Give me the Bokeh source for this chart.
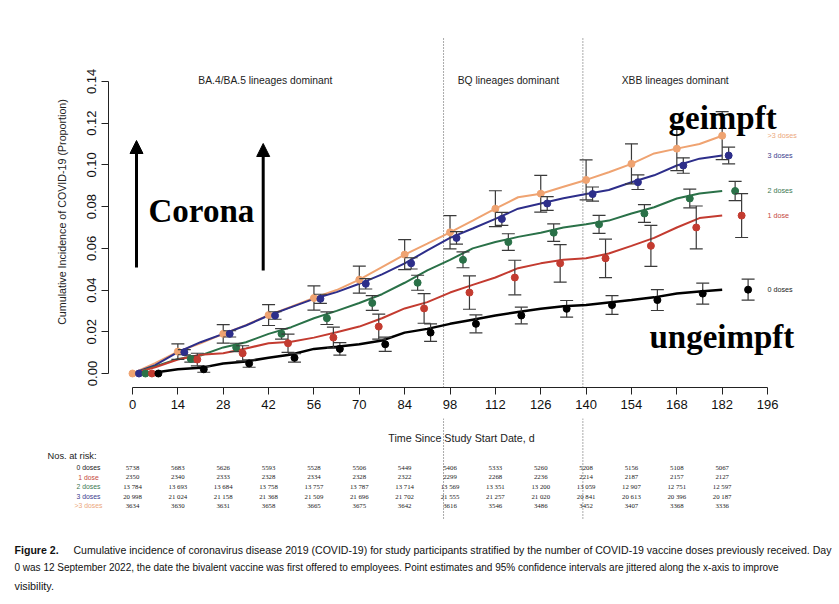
from bokeh.plotting import figure
from bokeh.layouts import column
from bokeh.models import (Range1d, FixedTicker, PrintfTickFormatter, Label, LabelSet,
                          ColumnDataSource, Arrow, NormalHead)
from bokeh.embed import file_html
from bokeh.resources import INLINE

# ---------------- data ----------------
days = list(range(0, 183, 7))
cum_3plus = [0.0, 0.0050, 0.0105, 0.0145, 0.0190, 0.0232, 0.0280, 0.0320, 0.0362, 0.0400,
             0.0450, 0.0510, 0.0570, 0.0623, 0.0677, 0.0733, 0.0790, 0.0845, 0.0862, 0.0895,
             0.0928, 0.0965, 0.1005, 0.1055, 0.1078, 0.1100, 0.1140]
cum_3 = [0.0, 0.0040, 0.0102, 0.0150, 0.0190, 0.0230, 0.0278, 0.0318, 0.0358, 0.0390,
         0.0430, 0.0475, 0.0528, 0.0590, 0.0650, 0.0695, 0.0741, 0.0790, 0.0815, 0.0840,
         0.0860, 0.0880, 0.0917, 0.0950, 0.0997, 0.1030, 0.1045]
cum_2 = [0.0, 0.0034, 0.0070, 0.0086, 0.0125, 0.0150, 0.0190, 0.0222, 0.0265, 0.0300,
         0.0338, 0.0380, 0.0435, 0.0494, 0.0545, 0.0600, 0.0630, 0.0655, 0.0675, 0.0700,
         0.0715, 0.0733, 0.0767, 0.0797, 0.0839, 0.0863, 0.0875]
cum_1 = [0.0, 0.0030, 0.0067, 0.0090, 0.0097, 0.0120, 0.0145, 0.0152, 0.0172, 0.0198,
         0.0225, 0.0265, 0.0312, 0.0342, 0.0388, 0.0425, 0.0460, 0.0505, 0.0528, 0.0545,
         0.0552, 0.0575, 0.0612, 0.0650, 0.0700, 0.0745, 0.0757]
cum_0 = [0.0, 0.0005, 0.0020, 0.0027, 0.0048, 0.0058, 0.0075, 0.0091, 0.0118, 0.0128,
         0.0140, 0.0158, 0.0196, 0.0214, 0.0238, 0.0258, 0.0278, 0.0295, 0.0310, 0.0322,
         0.0328, 0.0340, 0.0352, 0.0365, 0.0383, 0.0393, 0.0402]

point_days = list(range(0, 183, 14))
ci_3plus = [0.0, 0.0037, 0.0044, 0.0050, 0.0058, 0.0065, 0.0072, 0.0080, 0.0086, 0.0088,
            0.0096, 0.0096, 0.0105, 0.0115]
ci_3 = [0.0, 0.0012, 0.0015, 0.0018, 0.0022, 0.0025, 0.0027, 0.0030, 0.0031, 0.0033,
        0.0034, 0.0035, 0.0037, 0.0040]
ci_2 = [0.0, 0.0015, 0.0020, 0.0025, 0.0030, 0.0035, 0.0036, 0.0038, 0.0040, 0.0042,
        0.0043, 0.0043, 0.0045, 0.0046]
ci_1 = [0.0, 0.0030, 0.0036, 0.0044, 0.0050, 0.0060, 0.0071, 0.0080, 0.0083, 0.0090,
        0.0092, 0.0098, 0.0103, 0.0105]
ci_0 = [0.0, 0.0014, 0.0018, 0.0020, 0.0030, 0.0034, 0.0042, 0.0043, 0.0040, 0.0040,
        0.0045, 0.0050, 0.0050, 0.0050]

groups = [">3 doses", "3 doses", "2 doses", "1 dose", "0 doses"]
jitter_days = [0, 2, 4, 6, 8]

x_ticks = list(range(0, 197, 14))
y_ticks = [0.00, 0.02, 0.04, 0.06, 0.08, 0.10, 0.12, 0.14]

risk_days = list(range(0, 183, 14))
risk_0 = [5738, 5683, 5626, 5593, 5528, 5506, 5449, 5406, 5333, 5260, 5208, 5156, 5108, 5067]
risk_1 = [2350, 2340, 2333, 2328, 2334, 2328, 2322, 2299, 2268, 2236, 2214, 2187, 2157, 2127]
risk_2 = [13784, 13693, 13684, 13758, 13757, 13787, 13714, 13569, 13351, 13200, 13059, 12907, 12751, 12597]
risk_3 = [20998, 21024, 21158, 21368, 21509, 21696, 21702, 21555, 21257, 21020, 20841, 20613, 20396, 20187]
risk_3plus = [3634, 3630, 3631, 3658, 3665, 3675, 3642, 3616, 3546, 3486, 3452, 3407, 3368, 3336]

periods = ["BA.4/BA.5 lineages dominant", "BQ lineages dominant", "XBB lineages dominant"]
period_centers = [41, 116, 167.5]
period_breaks = [96, 139]

caption_lines = [
    "Cumulative incidence of coronavirus disease 2019 (COVID-19) for study participants stratified by the number of COVID-19 vaccine doses previously received. Day",
    "0 was 12 September 2022, the date the bivalent vaccine was first offered to employees. Point estimates and 95% confidence intervals are jittered along the x-axis to improve",
    "visibility.",
]

colors = ["#EFA371", "#2D2E8A", "#2A7148", "#C33B30", "#000000"]
label_colors = ["#EBA77C", "#3B3C8E", "#3C7852", "#C5483E", "#222222"]

# ---------------- page-pixel helpers (layout only) ----------------
X0, PXD = 132.0, 3.24      # page x of day 0, px per day
Y0, PXU = 373.0, 2086.0    # page y of 0.00, px per unit


def dx(X):
    return (X - X0) / PXD


def dy(Y):
    return (Y0 - Y) / PXU


def fmt_n(v):
    return f"{v:,}".replace(",", " ") if v >= 10000 else str(v)


W = 839
H1 = 418                       # top figure: plot + axes
H2 = 604 - H1                  # bottom figure: axis title, table, caption
FL, FR, FT, FB = 108, 805, 36, 387   # frame edges in page pixels
FONT = "Liberation Sans"

p = figure(width=W, height=H1, output_backend="svg", toolbar_location=None,
           x_range=Range1d(dx(FL), dx(FR)), y_range=Range1d(dy(FB), dy(FT)),
           min_border_left=FL, min_border_right=W - FR, min_border_top=FT,
           min_border_bottom=H1 - FB)
p.frame_align = False
p.outline_line_color = None
p.grid.visible = False
p.background_fill_color = "white"
p.border_fill_color = "white"

# axes
p.xaxis.ticker = FixedTicker(ticks=x_ticks)
p.xaxis.bounds = (x_ticks[0], x_ticks[-1])
p.yaxis.ticker = FixedTicker(ticks=y_ticks)
p.yaxis.bounds = (y_ticks[0], y_ticks[-1])
p.yaxis.formatter = PrintfTickFormatter(format="%.2f")
p.yaxis.major_label_orientation = "vertical"
for ax in (p.xaxis[0], p.yaxis[0]):
    ax.minor_tick_line_color = None
    ax.major_tick_in = 0
    ax.major_tick_out = 7
    ax.axis_line_color = "#222222"
    ax.major_tick_line_color = "#222222"
    ax.major_label_text_font = FONT
    ax.major_label_text_font_size = "13px"
    ax.major_label_text_color = "#111111"
    ax.axis_label_text_font = FONT
    ax.axis_label_text_font_size = "10.7px"
    ax.axis_label_text_font_style = "normal"
    ax.axis_label_text_color = "#222222"
p.xaxis.major_label_standoff = 5
p.yaxis.major_label_standoff = 5
p.yaxis.axis_label = "Cumulative Incidence of COVID-19 (Proportion)"
p.yaxis.axis_label_standoff = 17

# period separators
for b in period_breaks:
    p.segment([b], [dy(38)], [b], [dy(FB)], line_color="#555555", line_width=1, line_dash="1 2")

# curves
curves = [cum_3plus, cum_3, cum_2, cum_1, cum_0]
cis = [ci_3plus, ci_3, ci_2, ci_1, ci_0]
for c, col in zip(curves, colors):
    p.line(days, c, line_color=col, line_width=2.5 if col == "#000000" else 2.0)

# error bars and points
for c, ci, col, jit in zip(curves, cis, colors, jitter_days):
    ys = [c[days.index(d)] for d in point_days]
    xs = [d + jit for d in point_days]
    lo = [y - e for y, e in zip(ys, ci)]
    hi = [y + e for y, e in zip(ys, ci)]
    bx = [x for x, e in zip(xs, ci) if e > 0]
    blo = [l for l, e in zip(lo, ci) if e > 0]
    bhi = [h for h, e in zip(hi, ci) if e > 0]
    p.segment(bx, blo, bx, bhi, line_color="#3A3A3A", line_width=1.2)
    p.segment([x - 2 for x in bx], blo, [x + 2 for x in bx], blo, line_color="#3A3A3A", line_width=1.2)
    p.segment([x - 2 for x in bx], bhi, [x + 2 for x in bx], bhi, line_color="#3A3A3A", line_width=1.2)
    p.scatter(xs, ys, size=7, fill_color=col, line_color=col)

# group labels at right
for g, c, lc in zip(groups, curves, label_colors):
    p.add_layout(Label(x=196, y=c[-1], text=g, text_font=FONT, text_font_size="7.2px",
                       text_color=lc, text_align="left", text_baseline="middle"))

for t, xc in zip(periods, period_centers):
    p.add_layout(Label(x=xc, y=dy(80), text=t, text_font=FONT, text_font_size="10.3px",
                       text_color="#222222", text_align="center", text_baseline="middle"))

for t, xa, ya in [("Corona", 148, 210), ("geimpft", 668, 117), ("ungeimpft", 649, 336)]:
    p.add_layout(Label(x=dx(xa), y=dy(ya), text=t, text_font="Liberation Serif",
                       text_font_style="bold", text_font_size="33px", text_color="black",
                       text_align="left", text_baseline="alphabetic"))

for xa, ys_, ye_ in [(136, 267, 140), (262.7, 270, 143)]:
    p.add_layout(Arrow(end=NormalHead(size=13, fill_color="black", line_color="black", line_width=1),
                       x_start=dx(xa), y_start=dy(ys_), x_end=dx(xa), y_end=dy(ye_),
                       line_color="black", line_width=3))

# ---------------- bottom figure (y in page pixels) ----------------
q = figure(width=W, height=H2, output_backend="svg", toolbar_location=None,
           x_range=Range1d(dx(0), dx(W)), y_range=Range1d(604, H1),
           x_axis_type=None, y_axis_type=None, min_border=0)
q.frame_align = False
q.outline_line_color = None
q.grid.visible = False
q.background_fill_color = "white"
q.border_fill_color = "white"

for b in period_breaks:
    q.segment([b], [H1], [b], [518], line_color="#555555", line_width=1, line_dash="1 2")

q.add_layout(Label(x=dx(461), y=437, text="Time Since Study Start Date, d", text_font=FONT,
                   text_font_size="10.7px", text_color="#222222", text_align="center",
                   text_baseline="middle"))

q.add_layout(Label(x=dx(47), y=455, text="Nos. at risk:", text_font=FONT,
                   text_font_size="9.3px", text_color="#222222", text_align="left",
                   text_baseline="middle"))
risk_rows = [risk_0, risk_1, risk_2, risk_3, risk_3plus]
row_names = ["0 doses", "1 dose", "2 doses", "3 doses", ">3 doses"]
row_colors = ["#222222", "#C5483E", "#3C7852", "#3B3C8E", "#EBA77C"]
row_y = [467, 476.5, 486, 495.5, 505]
for vals, name, rc, ry in zip(risk_rows, row_names, row_colors, row_y):
    q.add_layout(Label(x=dx(88), y=ry, text=name, text_font=FONT, text_font_size="6.8px",
                       text_color=rc, text_align="center", text_baseline="middle"))
    src = ColumnDataSource(dict(x=risk_days, y=[ry] * len(vals),
                                t=[fmt_n(v) for v in vals]))
    q.add_layout(LabelSet(x="x", y="y", text="t", source=src, text_font=FONT,
                          text_font_size="6.8px", text_color="#222222",
                          text_align="center", text_baseline="middle"))

q.add_layout(Label(x=dx(14), y=549, text="Figure 2.", text_font=FONT,
                   text_font_style="bold", text_font_size="10.6px", text_color="#111111",
                   text_align="left", text_baseline="middle"))
cap_sizes = ["10.55px", "10px", "10.8px"]
for line, xa, ya, cs in zip(caption_lines, [73, 14, 14], [549, 567, 585], cap_sizes):
    q.add_layout(Label(x=dx(xa), y=ya, text=line, text_font=FONT,
                       text_font_size=cs, text_color="#111111",
                       text_align="left", text_baseline="middle"))

layout = column(p, q, spacing=0)
open("out.html", "w").write(file_html(layout, INLINE))
